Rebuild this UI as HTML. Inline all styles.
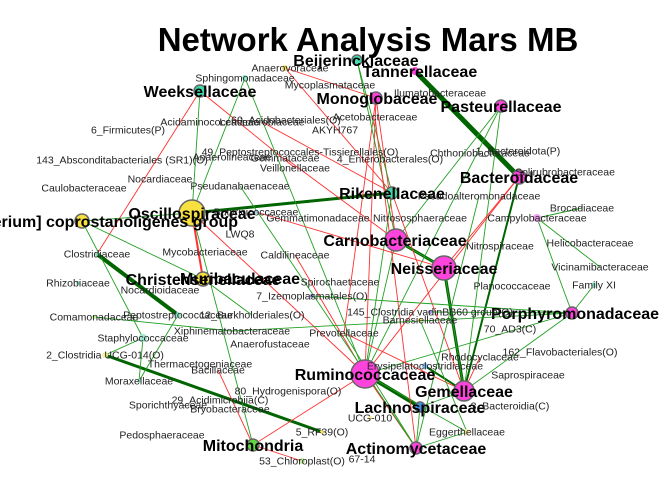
<!DOCTYPE html>
<html><head><meta charset="utf-8"><style>
html,body{margin:0;padding:0;background:#fff;}
svg{display:block;font-family:"Liberation Sans",Arial,sans-serif;}
</style></head><body>
<svg id="net" width="672" height="480" viewBox="0 0 672 480">
<text x="368" y="51" text-anchor="middle" font-size="33" font-weight="bold" fill="#000">Network Analysis Mars MB</text>
<g id="edges"></g>
<g id="nodes"></g>
<g id="labels"></g>
</svg>
<script>
// node names, layout, node size, color, bold label
const nodeNames=["Beijerinckiaceae","Tannerellaceae","Anaerovoraceae","Sphingomonadaceae","Mycoplasmataceae","Weeksellaceae","Monoglobaceae","Pasteurellaceae","Ilumatobacteraceae","Acetobacteraceae",
"Bacteroidaceae","Solirubrobacteraceae","Rikenellaceae","Pseudoalteromonadaceae","Brocadiaceae","Campylobacteraceae","Carnobacteriaceae","Neisseriaceae","Helicobacteraceae","Nitrospiraceae",
"Vicinamibacteraceae","Family XI","Porphyromonadaceae","Oscillospiraceae","[Eubacterium] coprostanoligenes group","Christensenellaceae","Muribaculaceae","Ruminococcaceae","Gemellaceae","Lachnospiraceae",
"Actinomycetaceae","Mitochondria","Eggerthellaceae","Erysipelatoclostridiaceae","Clostridiaceae","Peptostreptococcaceae","2_Clostridia UCG-014(O)","5_RF39(O)","Staphylococcaceae","Moraxellaceae",
"Rhizobiaceae","Comamonadaceae","Caulobacteraceae","143_Absconditabacteriales (SR1)(O)","6_Firmicutes(P)","Acidaminococcaceae","Lentimicrobiaceae","60_Acidobacteriales(O)","AKYH767","Anaerolineaceae",
"Gemmataceae","49_Peptostreptococcales-Tissierellales(O)","Veillonellaceae","Nocardiaceae","Pseudanabaenaceae","Butyricicoccaceae","Gemmatimonadaceae","LWQ8","Mycobacteriaceae","Caldilineaceae",
"Nitrososphaeraceae","Chthoniobacteraceae","1_Bacteroidota(P)","4_Enterobacterales(O)","Spirochaetaceae","7_Izemoplasmatales(O)","Nocardioidaceae","12_Burkholderiales(O)","Xiphinematobacteraceae","Thermacetogeniaceae",
"Anaerofustaceae","Bacillaceae","80_Hydrogenispora(O)","29_Acidimicrobiia(C)","Sporichthyaceae","Bryobacteraceae","Pedosphaeraceae","53_Chloroplast(O)","UCG-010","67-14",
"Prevotellaceae","145_Clostridia vadinBB60 group(O)","Barnesiellaceae","Planococcaceae","70_AD3(C)","162_Flavobacteriales(O)","Rhodocyclaceae","Saprospiraceae","3_Bacteroidia(C)"];
const nodeX=[357,415,285,245,330,200,376,501,440,375, 519,565,392,479,582,537,396,444,590,500, 600,594,572,192,82,203,205,365,464,420, 416,253,467,425,97,178,105,322,143,139, 78,94,84,122,128,210,262,286,335,232, 285,300,295,160,240,256,318,240,205,295, 420,480,518,390,340,312,160,252,232,200, 270,218,288,220,168,230,162,302,370,362, 344,430,420,512,510,560,480,528,510];
const nodeY=[60,71,68,78,85,91,98,106,93,117, 177,172,193,196,208,218,240,268,243,246, 267,285,313,213,221,279,278,374,391,407, 448,445,432,366,254,315,355,432,338,381, 283,317,188,160,130,122,122,120,130,157, 158,152,168,179,186,212,218,234,252,255, 218,153,151,159,282,296,290,315,331,364, 344,370,391,400,405,409,435,461,418,459, 333,312,320,286,329,352,357,375,406];
const nodeR=[5,4,3,3,0,6,6,6,0,0, 7,0,6,0,0,4,11,12,0,0, 0,3,6,13,7,7,3,14,10,5, 6,6,3,3,2,3,3,2,4,2, 2,2,0,0,0,0,0,0,0,0, 0,0,0,0,0,2,0,0,0,0, 0,0,0,0,0,2,0,0,0,0, 0,0,0,0,0,0,0,3,2,0, 0,2,2,0,0,0,0,0,0];
const nodeColor=["#40e0b0","#ff44dd","#f0e070","#90e8c8","#ccc","#40d8a8","#ff44dd","#ff44dd","#ccc","#ccc","#ff44dd","#ccc","#40d8a8","#ccc","#ccc","#f0a0f0","#ff44dd","#ff44dd","#ccc","#ccc","#ccc","#a0e8d0","#ff44dd","#f8e040","#f8e040","#f8e040","#f8e040","#ff44dd","#ff44dd","#4090e0","#ff44dd","#60d840","#f8f0a0","#80b8f0","#90e8c8","#90e8c8","#f8f0a0","#f8e070","#a0e8d0","#a0e8d0","#a0e8d0","#c0f0a0","#ccc","#ccc","#ccc","#ccc","#ccc","#ccc","#ccc","#ccc","#ccc","#ccc","#ccc","#ccc","#ccc","#a0c8f0","#ccc","#ccc","#ccc","#ccc","#ccc","#ccc","#ccc","#ccc","#ccc","#8080c0","#ccc","#ccc","#ccc","#ccc","#ccc","#ccc","#ccc","#ccc","#ccc","#ccc","#ccc","#c0f0a0","#f8f0a0","#ccc","#ccc","#a090e0","#f0e070","#ccc","#ccc","#ccc","#ccc","#ccc","#ccc"];
const nodeBold=[1,1,0,0,0,1,1,1,0,0, 1,0,1,0,0,0,1,1,0,0, 0,0,1,1,1,1,1,1,1,1, 1,1,0,0,0,0,0,0,0,0];
const labelX=[356,420,290,245,330,200,377,501,440,375, 519,565,392,479,582,537,395,444,590,500, 600,594,575,192,86,203,240,365,464,420, 416,253,467,425,97,178,105,322,143,139];
// edges: source, target, weight, sign (1 positive / -1 negative)
const edgeFrom=[1,23,34,36,27,17,16,23,23,23,23,5,5,5,3,3,2,2,6,6,6,7,7,7,10,10,10,15,15,15,22,22,22,28,28,29,30,30,31,31,25,25,38,38,39,41,16,16,12,12,27,27,27,33,24,24,55,59,65,68,0,0,9,50,54,46,80,80,86,13,81,82];
const edgeTo=[10,12,35,37,29,28,17,24,25,31,27,23,34,52,27,23,6,12,27,16,80,16,28,27,17,27,28,14,22,20,21,28,27,29,17,30,27,32,71,77,23,67,36,39,35,68,27,17,27,28,30,32,31,28,25,38,17,27,22,22,12,16,30,16,30,12,28,30,28,30,22,32];
const edgeW=[5,3,4,3,4,3,3,1,1,1,1,1,1,1,1,1,1,1,1,1,1,1,1,1,1,1,2,1,1,1,1,1,1,1,1,1,1,1,1,1,2,1,1,1,1,1,1,1,1,1,1,1,1,2,1,1,1,1,1,1,1,1,1,1,1,1,1,1,1,1,1,1];
const edgeSign=[1,1,1,1,1,1,1,1,1,1,-1,1,-1,-1,1,1,-1,-1,-1,-1,-1,1,1,1,-1,-1,1,1,1,1,1,1,1,1,1,1,-1,1,-1,-1,-1,1,1,1,1,1,1,1,1,-1,-1,1,-1,1,1,1,-1,-1,1,1,1,1,-1,-1,1,-1,-1,1,-1,1,1,1];

const NS="http://www.w3.org/2000/svg";
const gE=document.getElementById('edges'),gN=document.getElementById('nodes'),gL=document.getElementById('labels');
for(let i=0;i<edgeFrom.length;i++){
  const a=edgeFrom[i],b=edgeTo[i];
  const l=document.createElementNS(NS,'line');
  l.setAttribute('x1',nodeX[a]);l.setAttribute('y1',nodeY[a]);
  l.setAttribute('x2',nodeX[b]);l.setAttribute('y2',nodeY[b]);
  l.setAttribute('stroke',edgeSign[i]>0?(edgeW[i]>1?'#006400':'#22a022'):'#ff3030');
  l.setAttribute('stroke-width',edgeW[i]>1?edgeW[i]:0.9);
  
  
  gE.appendChild(l);
}
for(let i=0;i<nodeNames.length;i++){
  if(nodeR[i]>0){
    const c=document.createElementNS(NS,'circle');
    c.setAttribute('cx',nodeX[i]);c.setAttribute('cy',nodeY[i]);c.setAttribute('r',nodeR[i]);
    c.setAttribute('fill',nodeColor[i]);
    c.setAttribute('stroke',nodeR[i]>4?'#666':'none');c.setAttribute('stroke-width',1.5);
    
    
    gN.appendChild(c);
  }
  const t=document.createElementNS(NS,'text');
  const bold=nodeBold[i]===1;
  t.setAttribute('x',i<labelX.length?labelX[i]:nodeX[i]);
  t.setAttribute('y',nodeY[i]+(bold?6:3.5));
  t.setAttribute('text-anchor','middle');
  t.setAttribute('font-size',bold?16:10.5);
  if(bold)t.setAttribute('font-weight','bold');
  t.setAttribute('fill',bold?'#000':'#222');
  t.textContent=nodeNames[i];
  
  
  gL.appendChild(t);
}
</script>
</body></html>
